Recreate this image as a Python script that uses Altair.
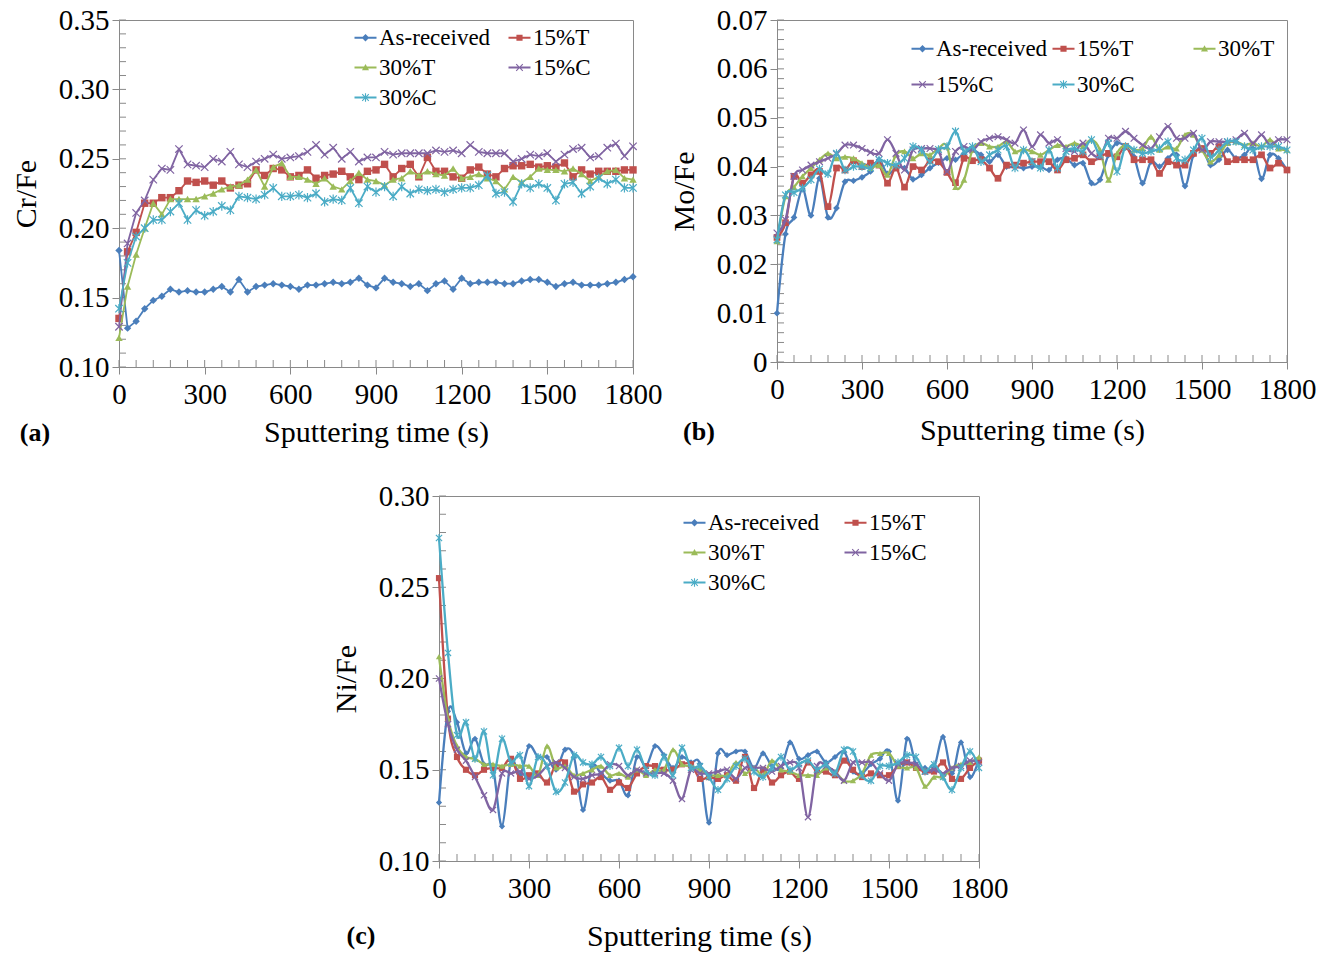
import math
import altair as alt
import pandas as pd

T = list(range(0, 1801, 30))
SERIES = ["As-received", "15%T", "30%T", "15%C", "30%C"]
COLORS = ["#4A7EBB", "#C0504D", "#9BBB59", "#8064A2", "#4BACC6"]
GRAY = "#898989"
FONT = "Liberation Serif"

# ---------------- panel (a) Cr/Fe ----------------
A_AS = [0.184, 0.128, 0.133, 0.142, 0.148, 0.151, 0.156, 0.154, 0.155, 0.154,
        0.154, 0.156, 0.158, 0.154, 0.163, 0.154, 0.158, 0.159, 0.160, 0.159,
        0.158, 0.156, 0.159, 0.159, 0.160, 0.161, 0.160, 0.161, 0.164, 0.159,
        0.157, 0.164, 0.161, 0.160, 0.158, 0.160, 0.155, 0.160, 0.162, 0.156,
        0.164, 0.160, 0.161, 0.161, 0.161, 0.160, 0.160, 0.162, 0.163, 0.163,
        0.161, 0.158, 0.160, 0.161, 0.159, 0.159, 0.159, 0.160, 0.161, 0.163,
        0.165]
A_15T = [0.135, 0.183, 0.197, 0.218, 0.218, 0.222, 0.222, 0.227, 0.234, 0.233,
         0.234, 0.231, 0.234, 0.229, 0.231, 0.232, 0.242, 0.238, 0.243, 0.242,
         0.237, 0.238, 0.242, 0.236, 0.238, 0.239, 0.241, 0.237, 0.235, 0.241,
         0.242, 0.246, 0.237, 0.243, 0.246, 0.237, 0.251, 0.241, 0.241, 0.237,
         0.236, 0.242, 0.244, 0.239, 0.237, 0.243, 0.245, 0.245, 0.246, 0.244,
         0.245, 0.244, 0.247, 0.237, 0.242, 0.239, 0.241, 0.241, 0.241, 0.242,
         0.242]
A_30T = [0.121, 0.158, 0.181, 0.200, 0.218, 0.210, 0.221, 0.221, 0.221, 0.221,
         0.223, 0.225, 0.228, 0.230, 0.231, 0.235, 0.242, 0.230, 0.244, 0.247,
         0.237, 0.237, 0.235, 0.232, 0.236, 0.230, 0.228, 0.234, 0.240, 0.235,
         0.234, 0.231, 0.235, 0.236, 0.241, 0.238, 0.241, 0.239, 0.238, 0.243,
         0.236, 0.237, 0.239, 0.236, 0.234, 0.228, 0.237, 0.233, 0.237, 0.243,
         0.242, 0.242, 0.241, 0.243, 0.239, 0.234, 0.237, 0.241, 0.242, 0.236,
         0.235]
A_15C = [0.129, 0.189, 0.211, 0.220, 0.235, 0.243, 0.242, 0.257, 0.246, 0.245,
         0.244, 0.250, 0.248, 0.255, 0.246, 0.244, 0.248, 0.250, 0.253, 0.250,
         0.251, 0.252, 0.255, 0.260, 0.253, 0.258, 0.250, 0.255, 0.248, 0.251,
         0.251, 0.255, 0.253, 0.254, 0.254, 0.254, 0.254, 0.256, 0.255, 0.256,
         0.254, 0.260, 0.255, 0.254, 0.254, 0.254, 0.248, 0.250, 0.253, 0.252,
         0.254, 0.248, 0.253, 0.257, 0.258, 0.251, 0.252, 0.258, 0.261, 0.252,
         0.259]
A_30C = [0.142, 0.175, 0.194, 0.200, 0.206, 0.206, 0.212, 0.218, 0.206, 0.213,
         0.209, 0.212, 0.216, 0.213, 0.223, 0.222, 0.221, 0.224, 0.229, 0.223,
         0.223, 0.224, 0.222, 0.225, 0.219, 0.221, 0.220, 0.229, 0.218, 0.230,
         0.226, 0.230, 0.223, 0.230, 0.225, 0.228, 0.227, 0.228, 0.226, 0.228,
         0.229, 0.229, 0.231, 0.238, 0.225, 0.226, 0.219, 0.232, 0.229, 0.232,
         0.229, 0.220, 0.232, 0.233, 0.225, 0.230, 0.236, 0.232, 0.235, 0.229,
         0.229]

# ---------------- panel (b) Mo/Fe ----------------
B_AS = [0.0100, 0.0262, 0.0296, 0.0354, 0.0300, 0.0376, 0.0296, 0.0315, 0.0369, 0.0371,
        0.0378, 0.0390, 0.0414, 0.0385, 0.0397, 0.0397, 0.0374, 0.0383, 0.0397, 0.0408,
        0.0417, 0.0414, 0.0427, 0.0434, 0.0424, 0.0410, 0.0424, 0.0400, 0.0400, 0.0397,
        0.0400, 0.0400, 0.0393, 0.0414, 0.0417, 0.0403, 0.0407, 0.0366, 0.0373, 0.0424,
        0.0448, 0.0441, 0.0420, 0.0366, 0.0410, 0.0400, 0.0417, 0.0424, 0.0360, 0.0424,
        0.0437, 0.0403, 0.0414, 0.0434, 0.0417, 0.0424, 0.0437, 0.0375, 0.0424, 0.0417,
        0.0393]
B_15T = [0.0255, 0.0285, 0.0380, 0.0366, 0.0383, 0.0390, 0.0318, 0.0397, 0.0393, 0.0412,
         0.0400, 0.0407, 0.0403, 0.0366, 0.0397, 0.0358, 0.0400, 0.0393, 0.0412, 0.0410,
         0.0388, 0.0367, 0.0417, 0.0412, 0.0414, 0.0397, 0.0376, 0.0403, 0.0403, 0.0407,
         0.0410, 0.0410, 0.0410, 0.0393, 0.0414, 0.0417, 0.0424, 0.0410, 0.0420, 0.0427,
         0.0420, 0.0441, 0.0414, 0.0414, 0.0414, 0.0386, 0.0410, 0.0403, 0.0403, 0.0427,
         0.0437, 0.0427, 0.0441, 0.0410, 0.0414, 0.0414, 0.0414, 0.0424, 0.0397, 0.0407,
         0.0393]
B_30T = [0.0247, 0.0339, 0.0358, 0.0380, 0.0397, 0.0414, 0.0427, 0.0417, 0.0420, 0.0417,
         0.0407, 0.0397, 0.0403, 0.0383, 0.0424, 0.0431, 0.0417, 0.0427, 0.0424, 0.0437,
         0.0441, 0.0358, 0.0373, 0.0434, 0.0448, 0.0441, 0.0441, 0.0451, 0.0431, 0.0435,
         0.0431, 0.0424, 0.0434, 0.0444, 0.0441, 0.0448, 0.0442, 0.0455, 0.0434, 0.0373,
         0.0427, 0.0444, 0.0434, 0.0437, 0.0461, 0.0434, 0.0441, 0.0437, 0.0465, 0.0465,
         0.0434, 0.0410, 0.0424, 0.0448, 0.0451, 0.0444, 0.0448, 0.0441, 0.0455, 0.0437,
         0.0434]
B_15C = [0.0264, 0.0291, 0.0380, 0.0393, 0.0403, 0.0410, 0.0417, 0.0426, 0.0444, 0.0444,
         0.0437, 0.0429, 0.0427, 0.0455, 0.0427, 0.0393, 0.0434, 0.0437, 0.0437, 0.0431,
         0.0390, 0.0431, 0.0441, 0.0434, 0.0451, 0.0458, 0.0461, 0.0455, 0.0448, 0.0475,
         0.0441, 0.0465, 0.0448, 0.0455, 0.0437, 0.0431, 0.0448, 0.0427, 0.0420, 0.0458,
         0.0458, 0.0472, 0.0458, 0.0444, 0.0437, 0.0461, 0.0482, 0.0458, 0.0458, 0.0468,
         0.0434, 0.0451, 0.0451, 0.0451, 0.0455, 0.0468, 0.0448, 0.0465, 0.0444, 0.0455,
         0.0455]
B_30C = [0.0250, 0.0342, 0.0347, 0.0356, 0.0373, 0.0395, 0.0385, 0.0427, 0.0393, 0.0400,
         0.0400, 0.0397, 0.0414, 0.0407, 0.0403, 0.0417, 0.0441, 0.0434, 0.0410, 0.0435,
         0.0441, 0.0472, 0.0431, 0.0441, 0.0410, 0.0424, 0.0434, 0.0441, 0.0397, 0.0434,
         0.0410, 0.0397, 0.0434, 0.0397, 0.0431, 0.0437, 0.0431, 0.0455, 0.0424, 0.0448,
         0.0390, 0.0441, 0.0434, 0.0427, 0.0431, 0.0437, 0.0451, 0.0417, 0.0414, 0.0434,
         0.0458, 0.0420, 0.0434, 0.0451, 0.0451, 0.0441, 0.0434, 0.0441, 0.0441, 0.0441,
         0.0434]

# ---------------- panel (c) Ni/Fe ----------------
C_AS = [0.132, 0.182, 0.176, 0.159, 0.167, 0.153, 0.151, 0.119, 0.155, 0.147,
        0.163, 0.157, 0.157, 0.150, 0.161, 0.157, 0.128, 0.152, 0.148, 0.144,
        0.144, 0.136, 0.157, 0.152, 0.163, 0.158, 0.151, 0.157, 0.154, 0.153,
        0.121, 0.159, 0.158, 0.160, 0.160, 0.151, 0.159, 0.152, 0.151, 0.165,
        0.156, 0.158, 0.160, 0.154, 0.157, 0.160, 0.149, 0.148, 0.153, 0.156,
        0.160, 0.133, 0.167, 0.153, 0.151, 0.151, 0.168, 0.148, 0.165, 0.146,
        0.156]
C_15T = [0.255, 0.178, 0.157, 0.150, 0.147, 0.150, 0.151, 0.151, 0.156, 0.145,
         0.147, 0.148, 0.143, 0.153, 0.154, 0.138, 0.142, 0.143, 0.146, 0.139,
         0.143, 0.140, 0.148, 0.152, 0.152, 0.150, 0.150, 0.153, 0.153, 0.145,
         0.146, 0.145, 0.147, 0.144, 0.157, 0.140, 0.150, 0.143, 0.147, 0.149,
         0.145, 0.154, 0.149, 0.149, 0.147, 0.155, 0.150, 0.146, 0.148, 0.147,
         0.147, 0.152, 0.154, 0.151, 0.149, 0.149, 0.154, 0.145, 0.145, 0.151,
         0.155]
C_30T = [0.212, 0.178, 0.163, 0.157, 0.156, 0.153, 0.153, 0.152, 0.153, 0.152,
         0.152, 0.147, 0.163, 0.151, 0.152, 0.147, 0.148, 0.150, 0.152, 0.147,
         0.148, 0.146, 0.150, 0.147, 0.150, 0.150, 0.161, 0.153, 0.152, 0.150,
         0.147, 0.147, 0.147, 0.154, 0.148, 0.151, 0.147, 0.155, 0.150, 0.149,
         0.147, 0.147, 0.147, 0.151, 0.149, 0.144, 0.144, 0.148, 0.158, 0.159,
         0.159, 0.152, 0.151, 0.151, 0.141, 0.146, 0.146, 0.151, 0.153, 0.154,
         0.157]
C_15C = [0.200, 0.175, 0.161, 0.155, 0.146, 0.136, 0.128, 0.148, 0.148, 0.149,
         0.145, 0.147, 0.152, 0.154, 0.151, 0.146, 0.145, 0.147, 0.148, 0.153,
         0.152, 0.147, 0.150, 0.148, 0.148, 0.148, 0.144, 0.134, 0.150, 0.148,
         0.148, 0.149, 0.150, 0.145, 0.151, 0.151, 0.151, 0.149, 0.152, 0.154,
         0.151, 0.124, 0.152, 0.152, 0.149, 0.144, 0.154, 0.154, 0.154, 0.148,
         0.144, 0.153, 0.154, 0.153, 0.149, 0.150, 0.148, 0.151, 0.152, 0.155,
         0.154]
C_30C = [0.277, 0.214, 0.169, 0.176, 0.156, 0.171, 0.147, 0.167, 0.154, 0.158,
         0.141, 0.157, 0.152, 0.138, 0.143, 0.158, 0.154, 0.153, 0.157, 0.152,
         0.162, 0.152, 0.161, 0.150, 0.147, 0.157, 0.147, 0.162, 0.151, 0.152,
         0.146, 0.139, 0.145, 0.152, 0.156, 0.149, 0.146, 0.151, 0.157, 0.150,
         0.153, 0.155, 0.150, 0.153, 0.148, 0.161, 0.160, 0.147, 0.144, 0.152,
         0.152, 0.154, 0.158, 0.157, 0.149, 0.153, 0.146, 0.139, 0.151, 0.160,
         0.151]

for arr in [A_AS, A_15T, A_30T, A_15C, A_30C, B_AS, B_15T, B_30T, B_15C, B_30C,
            C_AS, C_15T, C_30T, C_15C, C_30C]:
    assert len(arr) == len(T)

X_TICKS = list(range(0, 1801, 300))
X_MINOR = list(range(0, 1801, 60))
A_YTICKS = [0.10, 0.15, 0.20, 0.25, 0.30, 0.35]
B_YTICKS = [0.0, 0.01, 0.02, 0.03, 0.04, 0.05, 0.06, 0.07]
C_YTICKS = [0.10, 0.15, 0.20, 0.25, 0.30]
A_YMINOR = [round(0.10 + 0.01 * i, 3) for i in range(26)]
B_YMINOR = [round(0.002 * i, 4) for i in range(36)]
C_YMINOR = [round(0.10 + 0.01 * i, 3) for i in range(21)]

# plot markers
MARKERS = [
    dict(shape="diamond", filled=True),
    dict(shape="square", filled=True),
    dict(shape="triangle-up", filled=True),
    dict(shape="M-1,-1L1,1M-1,1L1,-1", filled=False, strokeWidth=1.2),
    dict(shape="M-1,-1L1,1M-1,1L1,-1M0,-1.25L0,1.25", filled=False, strokeWidth=1.2),
]


# legend symbols: line + marker as filled polygons
def _poly(pts):
    area = sum(pts[i][0] * pts[(i + 1) % len(pts)][1] - pts[(i + 1) % len(pts)][0] * pts[i][1]
               for i in range(len(pts)))
    if area < 0:
        pts = pts[::-1]
    return "M" + "L".join(f"{x:.3f},{y:.3f}" for x, y in pts) + "Z"


def _bar(x1, y1, x2, y2, w):
    dx, dy = x2 - x1, y2 - y1
    ln = math.hypot(dx, dy)
    nx, ny = -dy / ln * w, dx / ln * w
    return [(x1 + nx, y1 + ny), (x2 + nx, y2 + ny), (x2 - nx, y2 - ny), (x1 - nx, y1 - ny)]


LINE = _poly(_bar(-1, 0, 1, 0, 0.085))
XMARK = _poly(_bar(-0.3, -0.3, 0.3, 0.3, 0.05)) + _poly(_bar(-0.3, 0.3, 0.3, -0.3, 0.05))
LEG_PATHS = [
    LINE + _poly([(0, -0.34), (0.34, 0), (0, 0.34), (-0.34, 0)]),
    LINE + _poly([(-0.28, -0.28), (0.28, -0.28), (0.28, 0.28), (-0.28, 0.28)]),
    LINE + _poly([(0, -0.32), (0.32, 0.26), (-0.32, 0.26)]),
    LINE + XMARK,
    LINE + XMARK + _poly(_bar(0, -0.38, 0, 0.38, 0.05)),
]


def panel(vals, ydom, yticks, yfmt, yminor, ytitle, w, h, interp, sw, msize,
          leg_cols, leg_x, leg_y, col_pad, row_pad, lab, lab_x, lab_y, xt_y, xt_x):
    rows = []
    for s, arr in zip(SERIES, vals):
        for t, v in zip(T, arr):
            rows.append({"t": t, "v": v, "series": s})
    df = pd.DataFrame(rows)

    xs = alt.Scale(domain=[0, 1800], nice=False, zero=False)
    ys = alt.Scale(domain=ydom, nice=False, zero=False)
    xax = alt.Axis(values=X_TICKS, format="d", title="Sputtering time (s)", labelPadding=6,
                   titleY=xt_y, titleX=xt_x, titleBaseline="middle", labelFlush=False)
    yax = alt.Axis(values=yticks, format=yfmt, title=ytitle, labelPadding=3,
                   titleX=-93, titleBaseline="middle")
    X = alt.X("t:Q", scale=xs, axis=xax)
    Y = alt.Y("v:Q", scale=ys, axis=yax)

    layers = []
    layers.append(
        alt.Chart(pd.DataFrame({"t": X_MINOR})).mark_rule(color=GRAY, strokeWidth=1)
        .encode(x=X, y=alt.value(h), y2=alt.value(h - 7)))
    layers.append(
        alt.Chart(pd.DataFrame({"v": yminor})).mark_rule(color=GRAY, strokeWidth=1)
        .encode(y=Y, x=alt.value(0), x2=alt.value(7)))

    base = alt.Chart(df)
    for i, s in enumerate(SERIES):
        mk = dict(MARKERS[i])
        layers.append(
            base.transform_filter(alt.datum.series == s)
            .mark_line(color=COLORS[i], strokeWidth=sw, interpolate=interp,
                       point=alt.OverlayMarkDef(color=COLORS[i], size=msize, opacity=1, **mk))
            .encode(x=X, y=Y))

    leg = alt.Legend(title=None, orient="none", legendX=leg_x, legendY=leg_y,
                     direction="horizontal",
                     columns=leg_cols, gridAlign="all", columnPadding=col_pad,
                     rowPadding=row_pad, symbolSize=484, symbolStrokeWidth=0,
                     labelFont=FONT, labelFontSize=23, labelColor="black",
                     labelOffset=2, padding=0, symbolOpacity=1)
    layers.append(
        base.transform_filter("datum.t < 0")
        .mark_point(filled=True, opacity=1)
        .encode(x=X, y=Y,
                color=alt.Color("series:N", scale=alt.Scale(domain=SERIES, range=COLORS), legend=leg),
                shape=alt.Shape("series:N", scale=alt.Scale(domain=SERIES, range=LEG_PATHS), legend=leg)))

    layers.append(
        alt.Chart(pd.DataFrame({"lab": [lab]}))
        .mark_text(font=FONT, fontSize=26, fontWeight="bold", align="center",
                   baseline="middle", color="black")
        .encode(text="lab:N", x=alt.value(lab_x), y=alt.value(lab_y)))

    return alt.layer(*layers).properties(width=w, height=h)


pa = panel([A_AS, A_15T, A_30T, A_15C, A_30C], [0.10, 0.35], A_YTICKS, ".2f", A_YMINOR,
           "Cr/Fe", 514, 347, "linear", 1.8, 55,
           2, 235, 6, 17, 6, "(a)", -84, 347 + 66, 65, 257)
pb = panel([B_AS, B_15T, B_30T, B_15C, B_30C], [0.0, 0.07], B_YTICKS, ".2~f", B_YMINOR,
           "Mo/Fe", 510, 342, "cardinal", 2.3, 45,
           3, 134, 17, 4, 12, "(b)", -78, 342 + 70, 68, 255)
pc = panel([C_AS, C_15T, C_30T, C_15C, C_30C], [0.10, 0.30], C_YTICKS, ".2f", C_YMINOR,
           "Ni/Fe", 540, 365, "cardinal", 2.3, 38,
           2, 244, 15, 24, 6, "(c)", -78, 365 + 75, 75, 260)

# empty layout spacer that pushes panel (c) to the right
spacer = (alt.Chart(pd.DataFrame({"s": [0]}))
          .mark_point(opacity=0)
          .encode(x=alt.value(0), y=alt.value(0))
          .properties(width=210, height=1, view=alt.ViewBackground(stroke="transparent")))

top = (alt.hconcat(pa, pb, spacing=5)
       .resolve_scale(color="independent", shape="independent")
       .resolve_legend(color="independent", shape="independent"))
bottom = (alt.hconcat(spacer, pc, spacing=0)
          .resolve_scale(color="independent", shape="independent")
          .resolve_legend(color="independent", shape="independent"))
chart = (
    alt.vconcat(top, bottom, spacing=33)
    .resolve_scale(color="independent", shape="independent")
    .resolve_legend(color="independent", shape="independent")
    .properties(padding={"left": 10, "top": 5, "right": 5, "bottom": 5}, background="white")
    .configure_view(stroke=GRAY, strokeWidth=1)
    .configure_axis(domainColor=GRAY, tickColor=GRAY, tickSize=7, grid=False,
                    labelFont=FONT, labelFontSize=29, labelColor="black",
                    titleFont=FONT, titleFontSize=30, titleFontWeight="normal",
                    titleColor="black")
)

chart.save("out.html", embed_options={"renderer": "svg", "actions": False})
